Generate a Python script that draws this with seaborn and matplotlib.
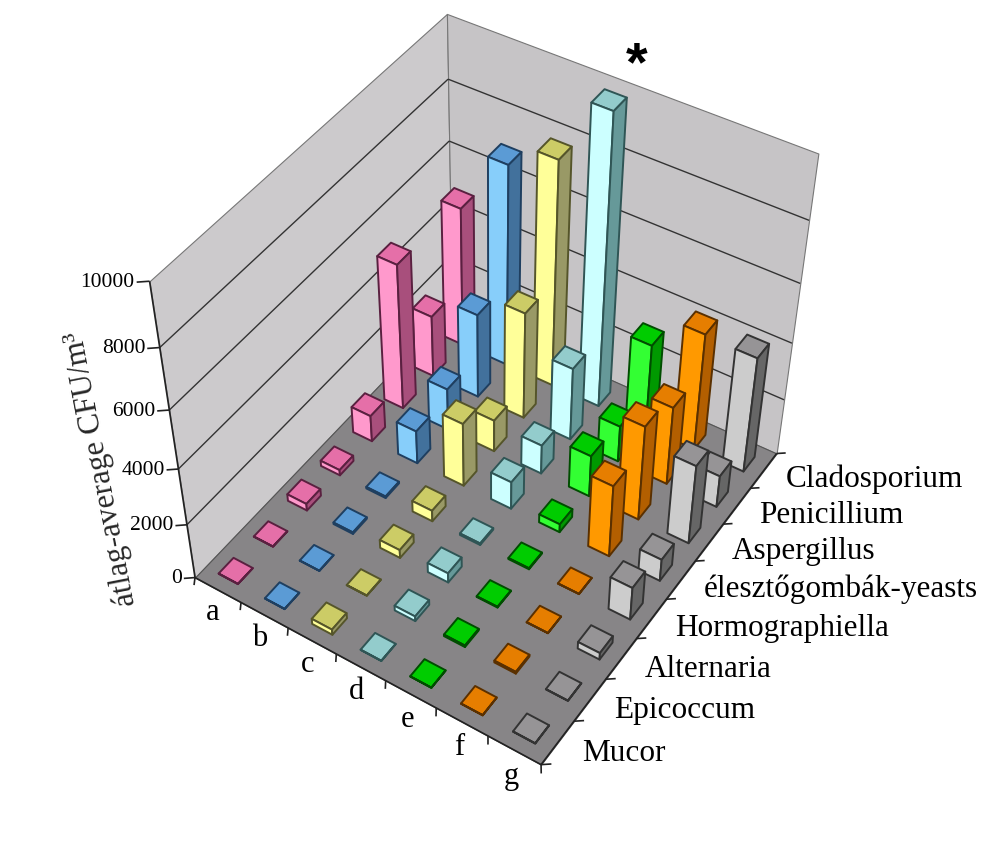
import numpy as np
import matplotlib
matplotlib.use('Agg')
import matplotlib.pyplot as plt
import seaborn as sns
from mpl_toolkits.mplot3d.art3d import Poly3DCollection, Line3DCollection

sns.set_theme(style='white')
plt.rcParams['font.family'] = ['Liberation Serif', 'DejaVu Serif']

categories = ['a', 'b', 'c', 'd', 'e', 'f', 'g']
species = ['Mucor', 'Epicoccum', 'Alternaria', 'Hormographiella',
           'élesztőgombák-yeasts', 'Aspergillus', 'Penicillium', 'Cladosporium']
z_ticks = [0, 2000, 4000, 6000, 8000, 10000]

# values front row (Mucor) to back row (Cladosporium)
vals_a = [10, 10, 250, 200, 950, 5150, 2200, 4900]
vals_b = [10, 10, 60, 60, 1200, 1500, 3000, 7000]
vals_c = [200, 10, 300, 400, 2300, 1150, 3800, 7800]
vals_d = [10, 180, 350, 60, 1000, 1050, 2600, 9900]
vals_e = [10, 60, 30, 40, 300, 1500, 1300, 3000]
vals_f = [10, 70, 10, 10, 2600, 3400, 2800, 4150]
vals_g = [10, 10, 250, 1200, 800, 2850, 1150, 4100]
values = [vals_a, vals_b, vals_c, vals_d, vals_e, vals_f, vals_g]

front_colors = ['#ff99cc', '#87cefa', '#ffff99', '#ccffff', '#33ff33', '#ff9900', '#cccccc']
top_colors = ['#e56fa8', '#5b9bd5', '#cccc66', '#93cccc', '#00cc00', '#e67e00', '#969496']
side_colors = ['#a84f7c', '#42719c', '#999966', '#669999', '#009900', '#b35f00', '#666666']
edge_colors = ['#5a2040', '#1f3f60', '#55552a', '#2f5555', '#004d00', '#5a3000', '#333333']

W, H = 992, 848
fig = plt.figure(figsize=(W / 100, H / 100), dpi=100)
ax = fig.add_axes([0, 0, 1, 1], projection='3d', computed_zorder=False)
ax.set_axis_off()

# camera fitted to the frame corners of the picture (world x, y, z -> pixel)
n_x, n_y, z_top = len(categories), len(species), z_ticks[-1]
calib = [((0, 0, 0), (195, 577)), ((0, 0, 2000), (187, 524)), ((0, 0, 4000), (178, 468)),
         ((0, 0, 6000), (169, 410)), ((0, 0, 8000), (160, 347)), ((0, 0, z_top), (150, 283)),
         ((n_x, 0, 0), (541, 766)), ((n_x, n_y, 0), (777, 451)), ((n_x, n_y, z_top), (818, 155)),
         ((0, n_y, 0), (452, 312)), ((0, n_y, z_top), (447, 12))]
rows = []
for (x, y, z), (u, v) in calib:
    p = [x, y, z / z_top, 1]
    rows.append(p + [0, 0, 0, 0] + [-u * c for c in p])
    rows.append([0, 0, 0, 0] + p + [-v * c for c in p])
cam = np.linalg.svd(np.array(rows, dtype=float))[2][-1].reshape(3, 4)
cam[:, 2] /= z_top


def fitted_proj():
    xa, xb = ax.viewLim.intervalx
    ya, yb = ax.viewLim.intervaly
    pos = ax.get_position()
    sx = (xb - xa) / pos.width / W
    sy = -(yb - ya) / pos.height / H
    tx = xa - pos.x0 * (xb - xa) / pos.width
    ty = ya + (1 - pos.y0) * (yb - ya) / pos.height
    to_view = np.array([[sx, 0, tx], [0, sy, ty], [0, 0, 1]])
    p = to_view @ cam
    depth = np.linalg.svd(p)[2][-1]
    return np.vstack([p[0], p[1], depth, p[2]])


ax.get_proj = fitted_proj


def put_text(x, y, z, s, **kw):
    u, v, w = cam @ np.array([x, y, z, 1.0])
    fig.text(u / w / W, 1 - v / w / H, s, color='black', **kw)


# walls and floor
ax.add_collection3d(Poly3DCollection([[(0, 0, 0), (0, n_y, 0), (0, n_y, z_top), (0, 0, z_top)]],
                                     facecolor='#cccacc', edgecolor='#777777', linewidth=0.8, zorder=1))
ax.add_collection3d(Poly3DCollection([[(0, n_y, 0), (n_x, n_y, 0), (n_x, n_y, z_top), (0, n_y, z_top)]],
                                     facecolor='#c6c4c6', edgecolor='#777777', linewidth=0.8, zorder=1))
ax.add_collection3d(Poly3DCollection([[(0, 0, 0), (n_x, 0, 0), (n_x, n_y, 0), (0, n_y, 0)]],
                                     facecolor='#878587', edgecolor='#555555', linewidth=0.8, zorder=2))

# grid, axis lines and ticks
grid_segs = []
for t in z_ticks[1:-1]:
    grid_segs.append([(0, 0, t), (0, n_y, t)])
    grid_segs.append([(0, n_y, t), (n_x, n_y, t)])
ax.add_collection3d(Line3DCollection(grid_segs, colors='#333333', linewidths=1.0, zorder=3))

axis_segs = [[(0, 0, 0), (0, 0, z_top)], [(0, 0, 0), (n_x, 0, 0)], [(n_x, 0, 0), (n_x, n_y, 0)]]
for t in z_ticks:
    axis_segs.append([(0, 0, t), (-0.15, -0.12, t)])
for i in range(n_x + 1):
    axis_segs.append([(i, 0, 0), (i + 0.09, -0.14, 0)])
for j in range(n_y + 1):
    axis_segs.append([(n_x, j, 0), (n_x + 0.13, j + 0.1, 0)])
ax.add_collection3d(Line3DCollection(axis_segs, colors='#222222', linewidths=1.2, zorder=3))

for t in z_ticks:
    put_text(-0.17, -0.14, t, str(t), ha='right', va='center', fontsize=15.5)
for i, name in enumerate(categories):
    put_text(i + 0.73, -0.44, 0, name, ha='center', va='center', fontsize=22)
for j, name in enumerate(species):
    put_text(n_x + 0.43, j + 0.53, 0, name, ha='left', va='center', fontsize=22.5)

# bars, painted from the back corner to the front corner
bar_w = 0.42
order = 10
none = (0, 0, 0, 0)
for j in range(n_y - 1, -1, -1):
    for i in range(n_x):
        faces = [none, top_colors[i], front_colors[i], none, none, side_colors[i]]
        edges = [none, edge_colors[i], edge_colors[i], none, none, edge_colors[i]]
        ax.bar3d(i + 0.5 - bar_w / 2, j + 0.5 - bar_w / 2, 0, bar_w, bar_w, values[i][j],
                 color=faces, edgecolor=edges, linewidth=1.4, shade=False, zorder=order)
        order += 1

fig.text(101 / W, 1 - 469 / H, 'átlag-average CFU/m³', rotation=101, rotation_mode='anchor',
         ha='center', va='center', fontsize=22.5)
fig.text(637 / W, 1 - 66 / H, '*', ha='center', va='center', fontsize=40, fontweight='bold',
         family=['Liberation Sans', 'DejaVu Sans'], color='black')

fig.savefig('out.png', dpi=100, facecolor='white')
